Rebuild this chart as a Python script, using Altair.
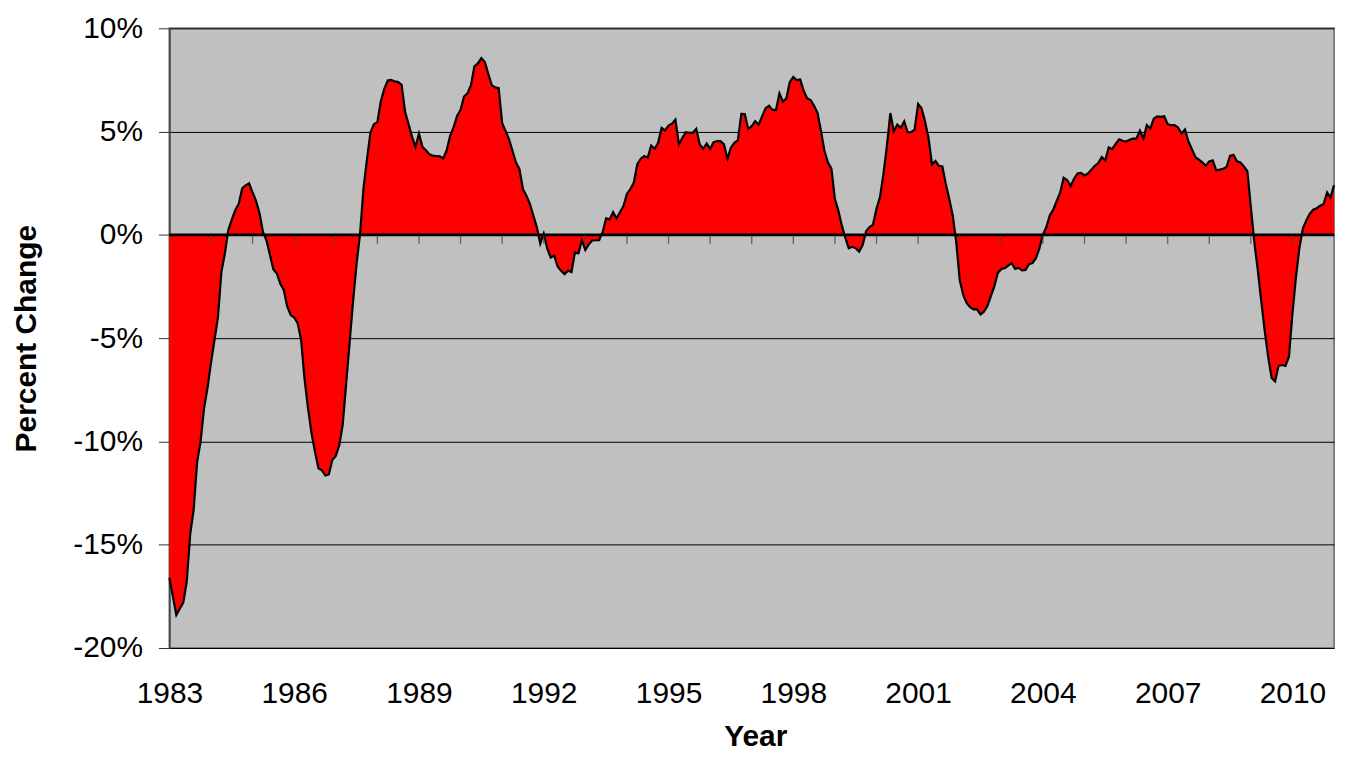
import altair as alt
import pandas as pd

# Monthly percent change, Jan 1983 .. Jan 2011
start_year = 1983
pct_change = [
    # 1983
    -16.6, -17.5, -18.4, -18.1, -17.8, -16.8, -14.5, -13.3, -11.0, -10.0, -8.4, -7.4,
    # 1984
    -6.2, -5.1, -4.0, -1.8, -0.9, 0.24, 0.74, 1.2, 1.5, 2.25, 2.4, 2.5,
    # 1985
    2.05, 1.65, 1.05, 0.14, -0.26, -0.96, -1.67, -1.87, -2.37, -2.67, -3.47, -3.88,
    # 1986
    -4.0, -4.28, -5.08, -7.0, -8.4, -9.6, -10.5, -11.3, -11.4, -11.65, -11.6, -10.9,
    # 1987
    -10.7, -10.2, -9.2, -7.2, -5.2, -3.2, -1.4, 0.04, 2.25, 3.65, 4.96, 5.36,
    # 1988
    5.46, 6.47, 7.07, 7.47, 7.5, 7.43, 7.4, 7.27, 5.96, 5.36, 4.76, 4.26,
    # 1989
    4.9, 4.26, 4.1, 3.9, 3.84, 3.82, 3.8, 3.7, 4.1, 4.8, 5.22, 5.76,
    # 1990
    6.05, 6.7, 6.85, 7.25, 8.16, 8.3, 8.56, 8.37, 7.8, 7.25, 7.14, 7.1,
    # 1991
    5.42, 5.02, 4.62, 4.06, 3.5, 3.18, 2.22, 1.9, 1.5, 0.94, 0.38, -0.42,
    # 1992
    0.06, -0.65, -1.1, -1.0, -1.53, -1.74, -1.9, -1.74, -1.8, -0.85, -0.9, -0.27,
    # 1993
    -0.73, -0.46, -0.27, -0.26, -0.26, 0.14, 0.8, 0.75, 1.1, 0.8, 1.1, 1.39,
    # 1994
    1.98, 2.22, 2.54, 3.42, 3.69, 3.82, 3.74, 4.33, 4.17, 4.46, 5.18, 5.06,
    # 1995
    5.29, 5.38, 5.58, 4.38, 4.7, 4.97, 4.94, 4.94, 5.13, 4.38, 4.17, 4.42,
    # 1996
    4.17, 4.49, 4.54, 4.54, 4.38, 3.69, 4.22, 4.46, 4.58, 5.86, 5.85, 5.13,
    # 1997
    5.26, 5.5, 5.34, 5.74, 6.13, 6.25, 6.05, 6.05, 6.85, 6.45, 6.61, 7.41,
    # 1998
    7.65, 7.49, 7.52, 6.98, 6.61, 6.53, 6.25, 5.9, 5.02, 4.06, 3.5, 3.21,
    # 1999
    1.74, 1.18, 0.46, -0.14, -0.65, -0.58, -0.65, -0.81, -0.5, 0.18, 0.38, 0.5,
    # 2000
    1.26, 1.82, 2.94, 4.3, 5.9, 5.02, 5.34, 5.18, 5.5, 4.97, 4.97, 5.1,
    # 2001
    6.34, 6.13, 5.5, 4.7, 3.42, 3.58, 3.34, 3.31, 2.46, 1.74, 0.94, -0.34,
    # 2002
    -2.17, -2.9, -3.3, -3.5, -3.61, -3.61, -3.85, -3.72, -3.45, -2.97, -2.49, -1.85,
    # 2003
    -1.65, -1.61, -1.49, -1.37, -1.65, -1.6, -1.72, -1.7, -1.42, -1.37, -1.13, -0.65,
    # 2004
    0.0, 0.38, 0.94, 1.22, 1.65, 2.05, 2.77, 2.66, 2.37, 2.72, 2.97, 3.0,
    # 2005
    2.88, 2.97, 3.16, 3.35, 3.48, 3.77, 3.61, 4.24, 4.15, 4.4, 4.63, 4.56,
    # 2006
    4.52, 4.6, 4.66, 4.67, 5.04, 4.67, 5.31, 5.15, 5.63, 5.74, 5.71, 5.74,
    # 2007
    5.36, 5.31, 5.31, 5.2, 4.91, 5.1, 4.52, 4.15, 3.77, 3.64, 3.51, 3.35,
    # 2008
    3.56, 3.61, 3.13, 3.16, 3.2, 3.29, 3.83, 3.88, 3.56, 3.51, 3.32, 3.08,
    # 2009
    1.34, -0.33, -1.69, -3.2, -4.63, -5.9, -6.93, -7.09, -6.34, -6.3, -6.34, -5.9,
    # 2010
    -3.83, -2.08, -0.65, 0.3, 0.7, 1.02, 1.22, 1.29, 1.41, 1.49, 2.05, 1.81,
    # 2011
    2.4,
]
label_years = [1983, 1986, 1989, 1992, 1995, 1998, 2001, 2004, 2007, 2010]
tick_years = list(range(1984, 2011))
y_ticks = [-20, -15, -10, -5, 0, 5, 10]

df = pd.DataFrame({
    "t": [start_year + i / 12 for i in range(len(pct_change))],
    "pct": pct_change,
})
ticks_df = pd.DataFrame({"t": tick_years, "pct": [0] * len(tick_years)})
zero_df = pd.DataFrame({"t": [1983], "pct": [0]})

FONT = "Liberation Sans"
xscale = alt.Scale(domain=[1983, 2011], nice=False, zero=False)
yscale = alt.Scale(domain=[-20, 10], nice=False)

x_axis = alt.Axis(
    values=label_years,
    format="d",
    title="Year",
    grid=False,
    domain=False,
    ticks=False,
    labelPadding=31,
    labelFlush=False,
    labelOverlap=False,
    titleX=588,
    titleY=98,
    titleBaseline="alphabetic",
    titleAlign="center",
)
y_axis = alt.Axis(
    values=y_ticks,
    labelExpr="datum.value + '%'",
    title="Percent Change",
    grid=True,
    gridColor="#000000",
    gridWidth=1,
    tickSize=11,
    tickColor="#333333",
    tickWidth=1,
    domainColor="#404040",
    domainWidth=1.5,
    labelPadding=16,
    labelFlush=False,
    labelOverlap=False,
    titleX=-134,
    titleY=311,
    titleAngle=270,
    titleBaseline="alphabetic",
    titleAlign="center",
)

X = alt.X("t:Q", scale=xscale, axis=x_axis)
Y = alt.Y("pct:Q", scale=yscale, axis=y_axis, stack=None)

area = alt.Chart(df).mark_area(
    color="#FF0000",
    opacity=1,
    line={"color": "black", "strokeWidth": 2.2},
).encode(x=X, y=Y, y2=alt.datum(0))

zero_line = alt.Chart(zero_df).mark_rule(color="black", strokeWidth=2.6).encode(y=Y)

year_ticks = alt.Chart(ticks_df).mark_tick(
    orient="vertical", size=9, thickness=1.4, color="#404040", yOffset=4.5
).encode(x=X, y=Y)

chart = (
    alt.layer(area, zero_line, year_ticks)
    .properties(
        width=1169,
        height=622,
        padding={"left": 162, "top": 19, "right": 4, "bottom": 105},
        autosize=alt.AutoSizeParams(type="none"),
        background="white",
    )
    .configure_axis(
        labelFont=FONT,
        titleFont=FONT,
        labelFontSize=30,
        titleFontSize=30,
        labelColor="black",
        titleColor="black",
        titleFontWeight="bold",
    )
    .configure_view(fill="#C0C0C0", stroke="#808080", strokeWidth=2)
)

chart.save("out.html", embed_options={"renderer": "svg", "actions": False})
